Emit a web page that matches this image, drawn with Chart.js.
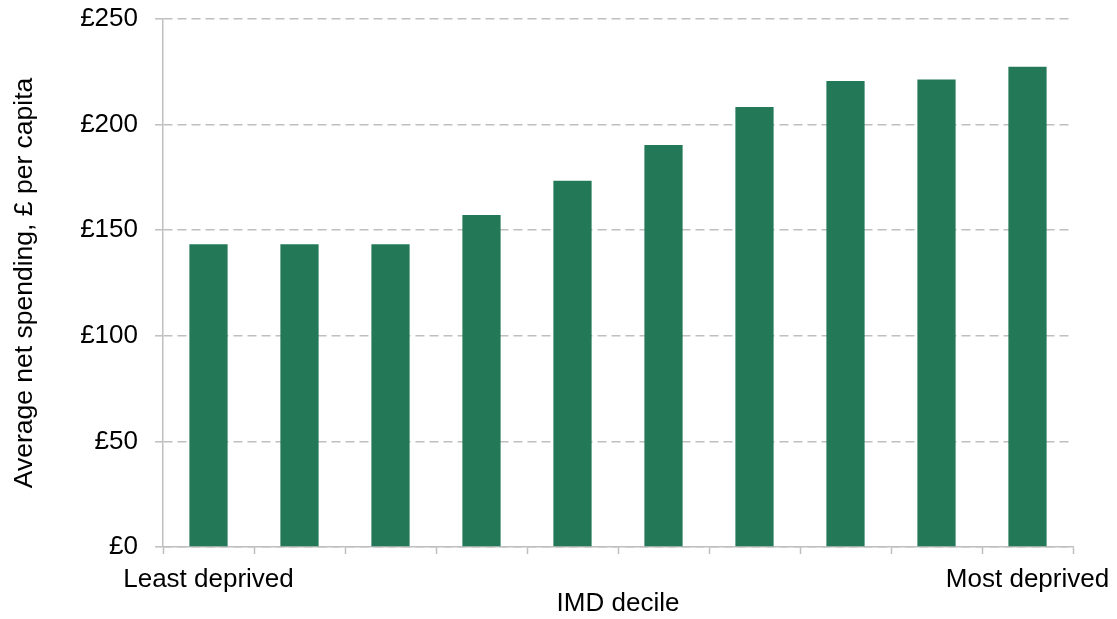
<!DOCTYPE html>
<html>
<head>
<meta charset="utf-8">
<script src="https://cdn.jsdelivr.net/npm/chart.js@4.4.1/dist/chart.umd.min.js"></script>
<style>
  html, body { margin: 0; padding: 0; background: #ffffff; }
  #wrap { width: 1117px; height: 619px; }
</style>
</head>
<body>
<div id="wrap"><canvas id="c" width="1117" height="619"></canvas></div>
<script>
const categories = ["Least deprived", "", "", "", "", "", "", "", "", "Most deprived"];
const spending = [143.4, 143.4, 143.4, 157.2, 173.4, 190.4, 208.3, 220.6, 221.4, 227.4];
const yTicks = [0, 50, 100, 150, 200, 250];

const FONT = "'Liberation Sans', Arial, sans-serif";
const GRID = '#bfbfbf';

new Chart(document.getElementById('c'), {
  type: 'bar',
  data: {
    labels: categories,
    datasets: [{
      data: spending,
      backgroundColor: '#237858',
      borderWidth: 0,
      barPercentage: 0.42,
      categoryPercentage: 1.0
    }]
  },
  options: {
    responsive: false,
    animation: false,
    devicePixelRatio: 1,
    layout: { padding: { left: 0, right: 44, top: 19, bottom: 0 } },
    plugins: { legend: { display: false }, tooltip: { enabled: false } },
    scales: {
      x: {
        grid: {
          offset: true,
          drawOnChartArea: false,
          drawTicks: true,
          tickLength: 7,
          tickColor: GRID,
          tickWidth: 1.5,
          color: GRID
        },
        border: { display: true, color: GRID, width: 1.5 },
        ticks: {
          autoSkip: false,
          maxRotation: 0,
          padding: 10,
          color: '#000',
          font: { family: FONT, size: 26 }
        },
        title: {
          display: true,
          text: 'IMD decile',
          color: '#000',
          font: { family: FONT, size: 26 },
          padding: 0
        },
        afterFit: (s) => { s.height = 72; s.paddingLeft = 0; s.paddingRight = 0; }
      },
      y: {
        min: 0,
        max: 250,
        afterBuildTicks: (s) => { s.ticks = yTicks.map(v => ({ value: v })); },
        grid: {
          color: GRID,
          lineWidth: 1.6,
          tickLength: 8,
          tickColor: GRID,
          tickWidth: 1.5,
          tickBorderDash: []
        },
        border: { display: true, color: GRID, width: 1.5, dash: [9, 5] },
        ticks: {
          padding: 17,
          color: '#000',
          font: { family: FONT, size: 26 },
          callback: (v) => '£' + v
        },
        title: {
          display: true,
          text: 'Average net spending, £ per capita',
          color: '#000',
          font: { family: FONT, size: 26.5 },
          padding: { top: 9, bottom: 0 }
        },
        afterFit: (s) => { s.width = 163; s.paddingTop = 0; s.paddingBottom = 0; }
      }
    }
  }
});
</script>
</body>
</html>
